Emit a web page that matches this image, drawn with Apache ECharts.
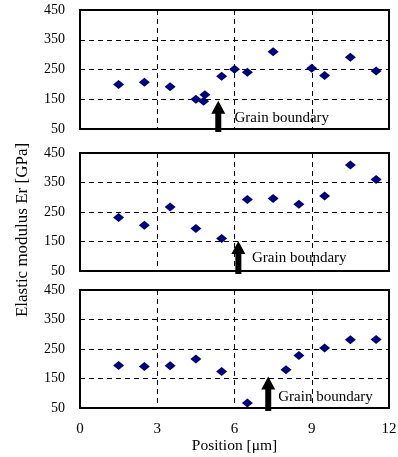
<!DOCTYPE html>
<html>
<head>
<meta charset="utf-8">
<script src="https://cdn.jsdelivr.net/npm/echarts@6/dist/echarts.min.js"></script>
<style>
  html, body { margin: 0; padding: 0; background: #fff; }
  #chart { width: 398px; height: 457px; }
</style>
</head>
<body>
<div id="chart"></div>
<script>
// measured data, one set per panel
const posA = [1.5, 2.5, 3.5, 4.5, 4.85, 4.8, 5.5, 6.0, 6.5, 7.5, 9.0, 9.5, 10.5, 11.5]
const erA = [200, 207, 192, 150, 165, 143, 227, 251, 241, 310, 254, 230, 291, 245]
const posB = [1.5, 2.5, 3.5, 4.5, 5.5, 6.5, 7.5, 8.5, 9.5, 10.5, 11.5]
const erB = [231, 205, 267, 194, 160, 292, 296, 276, 304, 409, 360]
const posC = [1.5, 2.5, 3.5, 4.5, 5.5, 6.5, 8.0, 8.5, 9.5, 10.5, 11.5]
const erC = [194, 191, 193, 216, 174, 67, 180, 228, 253, 281, 282]

// grain boundary arrows: x position, tip value; label anchor
const gbPos = [5.37, 6.15, 7.31]
const gbTip = [145, 152, 157]
const gbLabelX = [6.0, 6.68, 7.7]
const gbLabelY = [87, 93, 87]
const xTicks = [0, 3, 6, 9, 12]
const yTicks = [50, 150, 250, 350, 450]

const font = 'Liberation Serif'
const dash = { color: '#000', width: 1, type: [5, 4] }

const grids = [
  { left: 80, right: 9, top: 10, height: 119 },
  { left: 80, right: 9, top: 153, height: 118 },
  { left: 80, right: 9, top: 290, height: 118 }
].map(g => Object.assign(g, {
  show: true,
  borderColor: '#000',
  borderWidth: 2,
  containLabel: false,
  outerBoundsMode: 'none'
}))

const xAxes = [0, 1, 2].map(i => ({
  gridIndex: i,
  type: 'value',
  min: xTicks[0],
  max: xTicks[xTicks.length - 1],
  interval: 3,
  axisLine: { show: false },
  axisTick: { show: false },
  axisLabel: {
    show: i === 2,
    margin: 14,
    color: '#000',
    fontFamily: font,
    fontSize: 15
  },
  splitLine: { show: true, lineStyle: dash },
  name: i === 2 ? 'Position [μm]' : '',
  nameLocation: 'middle',
  nameGap: 29,
  nameTextStyle: { color: '#000', fontFamily: font, fontSize: 15.5 }
}))

const yAxes = [0, 1, 2].map(i => ({
  gridIndex: i,
  type: 'value',
  min: yTicks[0],
  max: yTicks[yTicks.length - 1],
  interval: 100,
  axisLine: { show: false },
  axisTick: { show: false },
  axisLabel: { margin: 15, color: '#000', fontFamily: font, fontSize: 14 },
  splitLine: { show: true, lineStyle: dash }
}))

const panels = [[posA, erA], [posB, erB], [posC, erC]]

const series = []
panels.forEach(([pos, er], i) => {
  series.push({
    type: 'scatter',
    xAxisIndex: i,
    yAxisIndex: i,
    symbol: 'diamond',
    symbolSize: [11, 9],
    itemStyle: { color: '#000080', opacity: 1 },
    data: pos.map((p, k) => [p, er[k]]),
    z: 5
  })
  // arrow
  series.push({
    type: 'custom',
    xAxisIndex: i,
    yAxisIndex: i,
    clip: false,
    data: [[gbPos[i], gbTip[i]]],
    renderItem(params, api) {
      const tip = api.coord([api.value(0), api.value(1)])
      const base = api.coord([api.value(0), 50])
      const x = tip[0]
      const y0 = tip[1]
      const y1 = base[1] + 3
      const hw = 7
      const sw = 3
      const hh = 13
      return {
        type: 'polygon',
        shape: {
          points: [
            [x, y0], [x + hw, y0 + hh], [x + sw, y0 + hh], [x + sw, y1],
            [x - sw, y1], [x - sw, y0 + hh], [x - hw, y0 + hh]
          ]
        },
        style: { fill: '#000' },
        z2: 10
      }
    },
    z: 6
  })
  // label
  series.push({
    type: 'scatter',
    xAxisIndex: i,
    yAxisIndex: i,
    symbolSize: 1,
    itemStyle: { color: 'rgba(0,0,0,0)', opacity: 1 },
    label: {
      show: true,
      position: 'inside',
      align: 'left',
      verticalAlign: 'middle',
      formatter: 'Grain boundary',
      color: '#000',
      fontFamily: font,
      fontSize: 15
    },
    data: [[gbLabelX[i], gbLabelY[i]]],
    z: 4
  })
})

const chart = echarts.init(document.getElementById('chart'))
chart.setOption({
  animation: false,
  grid: grids,
  xAxis: xAxes,
  yAxis: yAxes,
  graphic: [
    {
      type: 'text',
      rotation: Math.PI / 2,
      x: 23,
      y: 230,
      style: {
        text: 'Elastic modulus Er [GPa]',
        fill: '#000',
        font: '17px "Liberation Serif"',
        align: 'center',
        verticalAlign: 'middle'
      }
    }
  ],
  series: series
})
</script>
</body>
</html>
